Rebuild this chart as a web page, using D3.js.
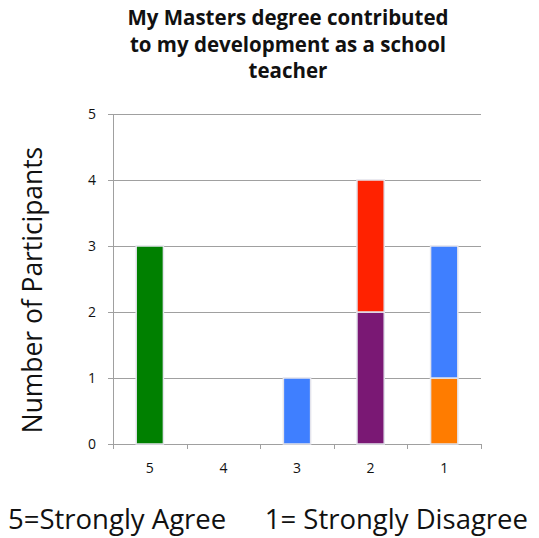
<!DOCTYPE html>
<html>
<head>
<meta charset="utf-8">
<script src="https://cdn.jsdelivr.net/npm/d3@7"></script>
<style>
  body { margin: 0; background: #fff; }
  text { font-family: "Open Sans", sans-serif; fill: #111; }
</style>
</head>
<body>
<div id="chart"></div>
<script>
var categories = ["5", "4", "3", "2", "1"];
var seriesKeys = ["green", "purple", "orange", "red", "blue"];
var greenVals  = [3, 0, 0, 0, 0];
var purpleVals = [0, 0, 0, 2, 0];
var orangeVals = [0, 0, 0, 0, 1];
var redVals    = [0, 0, 0, 2, 0];
var blueVals   = [0, 0, 1, 0, 2];
var yTicks = [0, 1, 2, 3, 4, 5];
var titleLines = ["My Masters degree contributed", "to my development as a school", "teacher"];
var yLabel = "Number of Participants";
var footLeft = "5=Strongly Agree";
var footRight = "1= Strongly Disagree";

var colors = { green: "#008000", purple: "#7a1874", orange: "#ff7c00", red: "#ff2200", blue: "#3f7fff" };

var width = 539, height = 538;
var margin = { top: 114, right: 58, bottom: 94, left: 113 };

var svg = d3.select("#chart").append("svg")
  .attr("width", width)
  .attr("height", height);

// table for the stack
var rows = categories.map(function(c, i) {
  return { cat: c, green: greenVals[i], purple: purpleVals[i], orange: orangeVals[i], red: redVals[i], blue: blueVals[i] };
});
var stacked = d3.stack().keys(seriesKeys)(rows);

var x = d3.scaleBand().domain(categories)
  .range([margin.left, width - margin.right])
  .paddingInner(0.63).paddingOuter(0.315);
var xTicks = d3.scaleBand().domain(categories).range([margin.left, width - margin.right]);
var y = d3.scaleLinear().domain([0, 5]).range([height - margin.bottom, margin.top]);

// gridlines
svg.append("g")
  .selectAll("line").data(yTicks).enter().append("line")
  .attr("x1", margin.left - 5).attr("x2", width - margin.right)
  .attr("y1", function(d) { return y(d) + 0.5; })
  .attr("y2", function(d) { return y(d) + 0.5; })
  .attr("stroke", "#a0a0a0").attr("stroke-width", 1);

// y axis line
svg.append("line")
  .attr("x1", margin.left + 0.5).attr("x2", margin.left + 0.5)
  .attr("y1", y(5)).attr("y2", y(0) + 4)
  .attr("stroke", "#a0a0a0");

// x tick marks
var xt = categories.map(function(c) { return xTicks(c); }).concat([width - margin.right]);
svg.append("g").selectAll("line").data(xt).enter().append("line")
  .attr("x1", function(d) { return Math.round(d) + 0.5; })
  .attr("x2", function(d) { return Math.round(d) + 0.5; })
  .attr("y1", y(0)).attr("y2", y(0) + 5)
  .attr("stroke", "#a0a0a0");

// y tick labels
svg.append("g").selectAll("text").data(yTicks).enter().append("text")
  .attr("x", 96).attr("y", function(d) { return y(d) + 5; })
  .attr("text-anchor", "end")
  .style("font-size", "14px")
  .text(function(d) { return d; });

// x tick labels
svg.append("g").selectAll("text").data(categories).enter().append("text")
  .attr("x", function(d) { return xTicks(d) + xTicks.bandwidth() / 2; })
  .attr("y", y(0) + 29)
  .attr("text-anchor", "middle")
  .style("font-size", "14px")
  .text(function(d) { return d; });

// bars
svg.append("g").selectAll("g").data(stacked).enter().append("g")
  .attr("fill", function(d) { return colors[d.key]; })
  .selectAll("rect").data(function(d) { return d; }).enter()
  .filter(function(d) { return d[1] > d[0]; })
  .append("rect")
  .attr("x", function(d) { return x(d.data.cat); })
  .attr("width", x.bandwidth())
  .attr("y", function(d) { return y(d[1]); })
  .attr("height", function(d) { return y(d[0]) - y(d[1]); })
  .attr("stroke", "#e4e4ec").attr("stroke-width", 1.5);

// title
svg.append("g").selectAll("text").data(titleLines).enter().append("text")
  .attr("x", 288).attr("y", function(d, i) { return 25 + i * 26.5; })
  .attr("text-anchor", "middle")
  .style("font-size", "20.5px").style("font-weight", "bold")
  .text(function(d) { return d; });

// y label
svg.append("text")
  .attr("transform", "translate(42," + 290 + ") rotate(-90)")
  .attr("text-anchor", "middle")
  .style("font-size", "26.4px")
  .text(yLabel);

// footer
svg.append("text").attr("x", 8).attr("y", 529).style("font-size", "27.5px").text(footLeft);
svg.append("text").attr("x", 528).attr("y", 529).attr("text-anchor", "end").style("font-size", "27.5px").text(footRight);
</script>
</body>
</html>
